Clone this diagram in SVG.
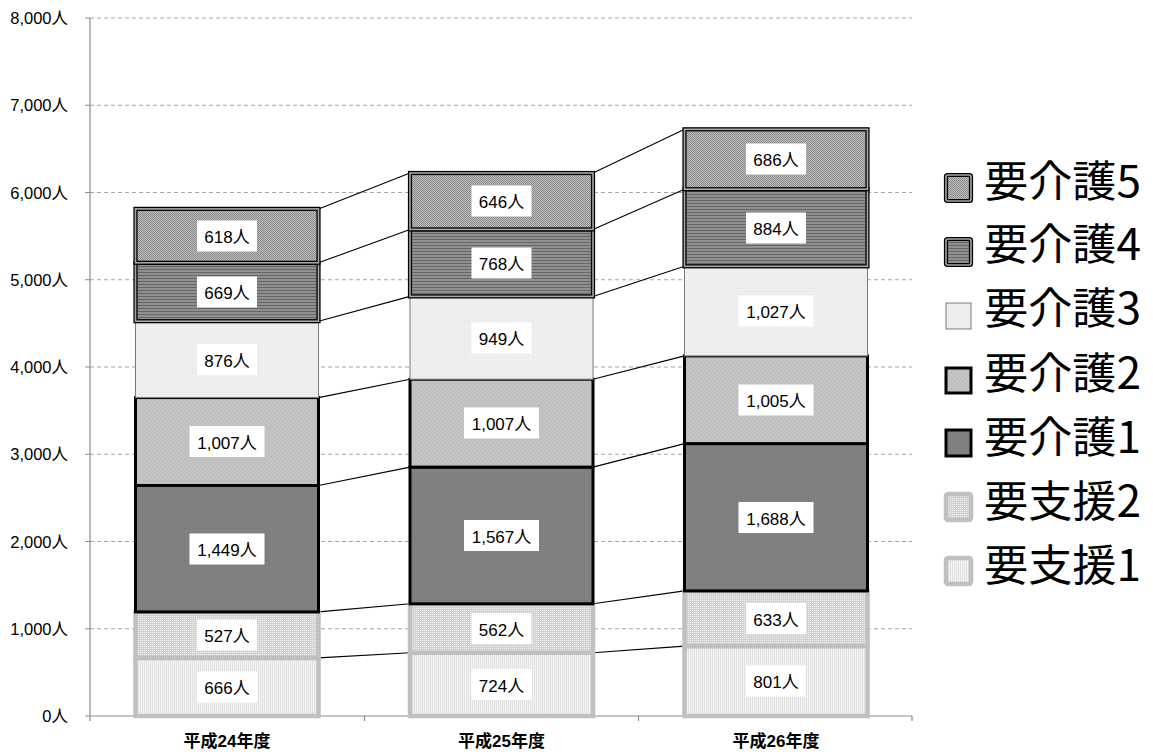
<svg xmlns="http://www.w3.org/2000/svg" width="1153" height="754" viewBox="0 0 1153 754">
<defs>
<style>
.grid{stroke:#a6a6a6;stroke-width:1;stroke-dasharray:4 3;fill:none}
.axis{stroke:#8c8c8c;stroke-width:1.2;fill:none}
.ylab{font-family:"Liberation Sans","Noto Sans CJK JP",sans-serif;font-size:16.5px;text-anchor:end;fill:#000}
.xlab{font-family:"Liberation Sans","Noto Sans CJK JP",sans-serif;font-size:17px;font-weight:bold;text-anchor:middle;fill:#000}
.lbg{fill:#fff}
.lbl{font-family:"Liberation Sans","Noto Sans CJK JP",sans-serif;font-size:17px;text-anchor:middle;fill:#000}
.s1{fill:url(#ps1);stroke:#c0c0c0;stroke-width:4.5}
.s2{fill:url(#ps2);stroke:#c0c0c0;stroke-width:4.5}
.k1{fill:url(#pk1);stroke:#000;stroke-width:3}
.k2{fill:url(#pk2);stroke:#000;stroke-width:3}
.k3{fill:url(#pk3);stroke:#7a7a7a;stroke-width:1}
.k4{fill:url(#pk4);stroke:#000;stroke-width:4.2}
.k5{fill:url(#pk5);stroke:#000;stroke-width:4.2}
.dbl{fill:none;stroke:#a8a8a8;stroke-width:1.6}
.conn{stroke:#000;stroke-width:1.1;fill:none}
.leg{font-family:"Noto Sans CJK JP",sans-serif;font-size:43px;font-weight:normal;fill:#000}
.ls{stroke-linejoin:round}
</style>
<pattern id="ps1" width="2" height="2" patternUnits="userSpaceOnUse">
<rect width="2" height="2" fill="#f3f3f3"/><rect width="1" height="2" fill="#e2e2e2"/>
</pattern>
<pattern id="ps2" width="2" height="2" patternUnits="userSpaceOnUse">
<rect width="2" height="2" fill="#d2d2d2"/><rect width="1" height="1" fill="#f0f0f0"/>
</pattern>
<pattern id="pk1" width="2" height="2" patternUnits="userSpaceOnUse">
<rect width="2" height="2" fill="#828282"/><rect width="1" height="1" fill="#777"/>
</pattern>
<pattern id="pk2" width="4" height="4" patternUnits="userSpaceOnUse">
<rect width="4" height="4" fill="#c4c4c4"/><path d="M0 4L4 0" stroke="#b6b6b6" stroke-width="0.8"/>
</pattern>
<pattern id="pk3" width="2" height="2" patternUnits="userSpaceOnUse">
<rect width="2" height="2" fill="#f1f1f1"/><rect width="1" height="1" fill="#e3e3e3"/>
</pattern>
<pattern id="pk4" width="3" height="3" patternUnits="userSpaceOnUse">
<rect width="3" height="3" fill="#909090"/><rect y="2" width="3" height="1" fill="#666"/>
</pattern>
<pattern id="pk5" width="2" height="2" patternUnits="userSpaceOnUse">
<rect width="2" height="2" fill="#bdbdbd"/><rect width="1" height="1" fill="#8a8a8a"/><rect x="1" y="1" width="1" height="1" fill="#8a8a8a"/>
</pattern>
</defs>
<rect width="1153" height="754" fill="#fff"/>

<g id="gridlines">
<path class="grid" d="M90 18H912M90 105.25H912M90 192.5H912M90 279.75H912M90 367H912M90 454.25H912M90 541.5H912M90 628.75H912"/>
</g>

<g id="axes">
<path class="axis" d="M90 18V716M85 18H90M85 105.25H90M85 192.5H90M85 279.75H90M85 367H90M85 454.25H90M85 541.5H90M85 628.75H90M85 716H90"/>
<path class="axis" d="M90 716H912M90 716V721M364.5 716V721M638.5 716V721M912 716V721"/>
<text class="ylab" x="68" y="24">8,000人</text>
<text class="ylab" x="68" y="111.25">7,000人</text>
<text class="ylab" x="68" y="198.5">6,000人</text>
<text class="ylab" x="68" y="285.75">5,000人</text>
<text class="ylab" x="68" y="373">4,000人</text>
<text class="ylab" x="68" y="460.25">3,000人</text>
<text class="ylab" x="68" y="547.5">2,000人</text>
<text class="ylab" x="68" y="634.75">1,000人</text>
<text class="ylab" x="68" y="722">0人</text>
<text class="xlab" x="227" y="747">平成24年度</text>
<text class="xlab" x="501.5" y="747">平成25年度</text>
<text class="xlab" x="776" y="747">平成26年度</text>
</g>

<g id="connectors">
<path class="conn" d="M318.5 657.9L410 652.8M318.5 611.9L410 603.8M318.5 485.5L410 467.1M318.5 397.6L410 379.2M318.5 321.2L410 296.4M318.5 262.8L410 229.4M318.5 208.9L410 173"/>
<path class="conn" d="M593 652.8L684.5 646.1M593 603.8L684.5 590.9M593 467.1L684.5 443.6M593 379.2L684.5 355.9M593 296.4L684.5 266.3M593 229.4L684.5 189.2M593 173L684.5 129.3"/>
</g>

<!-- Bar 1 -->
<g id="bar1-s1"><rect class="s1" x="135.5" y="657.9" width="183" height="58.1"/></g>
<g id="bar1-s2"><rect class="s2" x="135.5" y="611.9" width="183" height="46"/></g>
<g id="bar1-k1"><rect class="k1" x="135.5" y="485.5" width="183" height="126.4"/></g>
<g id="bar1-k2"><rect class="k2" x="135.5" y="397.6" width="183" height="87.9"/></g>
<g id="bar1-k3"><rect class="k3" x="135.5" y="321.2" width="183" height="76.4"/></g>
<g id="bar1-k4"><rect class="k4" x="135.5" y="262.8" width="183" height="58.4"/><rect class="dbl" x="135.5" y="262.8" width="183" height="58.4"/></g>
<g id="bar1-k5"><rect class="k5" x="135.5" y="208.9" width="183" height="53.9"/><rect class="dbl" x="135.5" y="208.9" width="183" height="53.9"/></g>

<!-- Bar 2 -->
<g id="bar2-s1"><rect class="s1" x="410" y="652.8" width="183" height="63.2"/></g>
<g id="bar2-s2"><rect class="s2" x="410" y="603.8" width="183" height="49"/></g>
<g id="bar2-k1"><rect class="k1" x="410" y="467.1" width="183" height="136.7"/></g>
<g id="bar2-k2"><rect class="k2" x="410" y="379.2" width="183" height="87.9"/></g>
<g id="bar2-k3"><rect class="k3" x="410" y="296.4" width="183" height="82.8"/></g>
<g id="bar2-k4"><rect class="k4" x="410" y="229.4" width="183" height="67"/><rect class="dbl" x="410" y="229.4" width="183" height="67"/></g>
<g id="bar2-k5"><rect class="k5" x="410" y="173" width="183" height="56.4"/><rect class="dbl" x="410" y="173" width="183" height="56.4"/></g>

<!-- Bar 3 -->
<g id="bar3-s1"><rect class="s1" x="684.5" y="646.1" width="183" height="69.9"/></g>
<g id="bar3-s2"><rect class="s2" x="684.5" y="590.9" width="183" height="55.2"/></g>
<g id="bar3-k1"><rect class="k1" x="684.5" y="443.6" width="183" height="147.3"/></g>
<g id="bar3-k2"><rect class="k2" x="684.5" y="355.9" width="183" height="87.7"/></g>
<g id="bar3-k3"><rect class="k3" x="684.5" y="266.3" width="183" height="89.6"/></g>
<g id="bar3-k4"><rect class="k4" x="684.5" y="189.2" width="183" height="77.1"/><rect class="dbl" x="684.5" y="189.2" width="183" height="77.1"/></g>
<g id="bar3-k5"><rect class="k5" x="684.5" y="129.3" width="183" height="59.9"/><rect class="dbl" x="684.5" y="129.3" width="183" height="59.9"/></g>

<g id="data-labels">
<rect class="lbg" x="197" y="671.5" width="60" height="31"/><text class="lbl" x="227" y="694">666人</text>
<rect class="lbg" x="197" y="619.5" width="60" height="31"/><text class="lbl" x="227" y="642">527人</text>
<rect class="lbg" x="189.5" y="533.5" width="75" height="31"/><text class="lbl" x="227" y="556">1,449人</text>
<rect class="lbg" x="189.5" y="426" width="75" height="31"/><text class="lbl" x="227" y="448.5">1,007人</text>
<rect class="lbg" x="197" y="344" width="60" height="31"/><text class="lbl" x="227" y="366.5">876人</text>
<rect class="lbg" x="197" y="276.5" width="60" height="31"/><text class="lbl" x="227" y="299">669人</text>
<rect class="lbg" x="197" y="220.5" width="60" height="31"/><text class="lbl" x="227" y="243">618人</text>

<rect class="lbg" x="471.5" y="669" width="60" height="31"/><text class="lbl" x="501.5" y="691.5">724人</text>
<rect class="lbg" x="471.5" y="613" width="60" height="31"/><text class="lbl" x="501.5" y="635.5">562人</text>
<rect class="lbg" x="464" y="520" width="75" height="31"/><text class="lbl" x="501.5" y="542.5">1,567人</text>
<rect class="lbg" x="464" y="407.5" width="75" height="31"/><text class="lbl" x="501.5" y="430">1,007人</text>
<rect class="lbg" x="471.5" y="322.5" width="60" height="31"/><text class="lbl" x="501.5" y="345">949人</text>
<rect class="lbg" x="471.5" y="247.5" width="60" height="31"/><text class="lbl" x="501.5" y="270">768人</text>
<rect class="lbg" x="471.5" y="185.5" width="60" height="31"/><text class="lbl" x="501.5" y="208">646人</text>

<rect class="lbg" x="746" y="665.5" width="60" height="31"/><text class="lbl" x="776" y="688">801人</text>
<rect class="lbg" x="746" y="603" width="60" height="31"/><text class="lbl" x="776" y="625.5">633人</text>
<rect class="lbg" x="738.5" y="502" width="75" height="31"/><text class="lbl" x="776" y="524.5">1,688人</text>
<rect class="lbg" x="738.5" y="384.5" width="75" height="31"/><text class="lbl" x="776" y="407">1,005人</text>
<rect class="lbg" x="738.5" y="295.5" width="75" height="31"/><text class="lbl" x="776" y="318">1,027人</text>
<rect class="lbg" x="746" y="212.5" width="60" height="31"/><text class="lbl" x="776" y="235">884人</text>
<rect class="lbg" x="746" y="143.5" width="60" height="31"/><text class="lbl" x="776" y="166">686人</text>
</g>

<g id="legend">
<g id="leg-k5"><rect class="k5" x="946" y="175" width="25" height="26" rx="1.5"/><rect class="dbl" x="946" y="175" width="25" height="26" rx="1.5"/><text class="leg" x="984" y="197" textLength="157" lengthAdjust="spacingAndGlyphs">要介護5</text></g>
<g id="leg-k4"><rect class="k4" x="946" y="239" width="25" height="26" rx="1.5"/><rect class="dbl" x="946" y="239" width="25" height="26" rx="1.5"/><text class="leg" x="984" y="260" textLength="157" lengthAdjust="spacingAndGlyphs">要介護4</text></g>
<g id="leg-k3"><rect class="k3" x="946" y="303" width="25" height="26"/><text class="leg" x="984" y="324" textLength="157" lengthAdjust="spacingAndGlyphs">要介護3</text></g>
<g id="leg-k2"><rect class="k2" x="946" y="368" width="25" height="25"/><text class="leg" x="984" y="389" textLength="157" lengthAdjust="spacingAndGlyphs">要介護2</text></g>
<g id="leg-k1"><rect class="k1" x="946" y="430" width="25" height="26"/><text class="leg" x="984" y="453" textLength="157" lengthAdjust="spacingAndGlyphs">要介護1</text></g>
<g id="leg-s2"><rect class="s2 ls" x="946" y="494" width="25" height="26" rx="2"/><text class="leg" x="984" y="517" textLength="157" lengthAdjust="spacingAndGlyphs">要支援2</text></g>
<g id="leg-s1"><rect class="s1 ls" x="946" y="558" width="25" height="26" rx="2"/><text class="leg" x="984" y="581" textLength="157" lengthAdjust="spacingAndGlyphs">要支援1</text></g>
</g>
</svg>
